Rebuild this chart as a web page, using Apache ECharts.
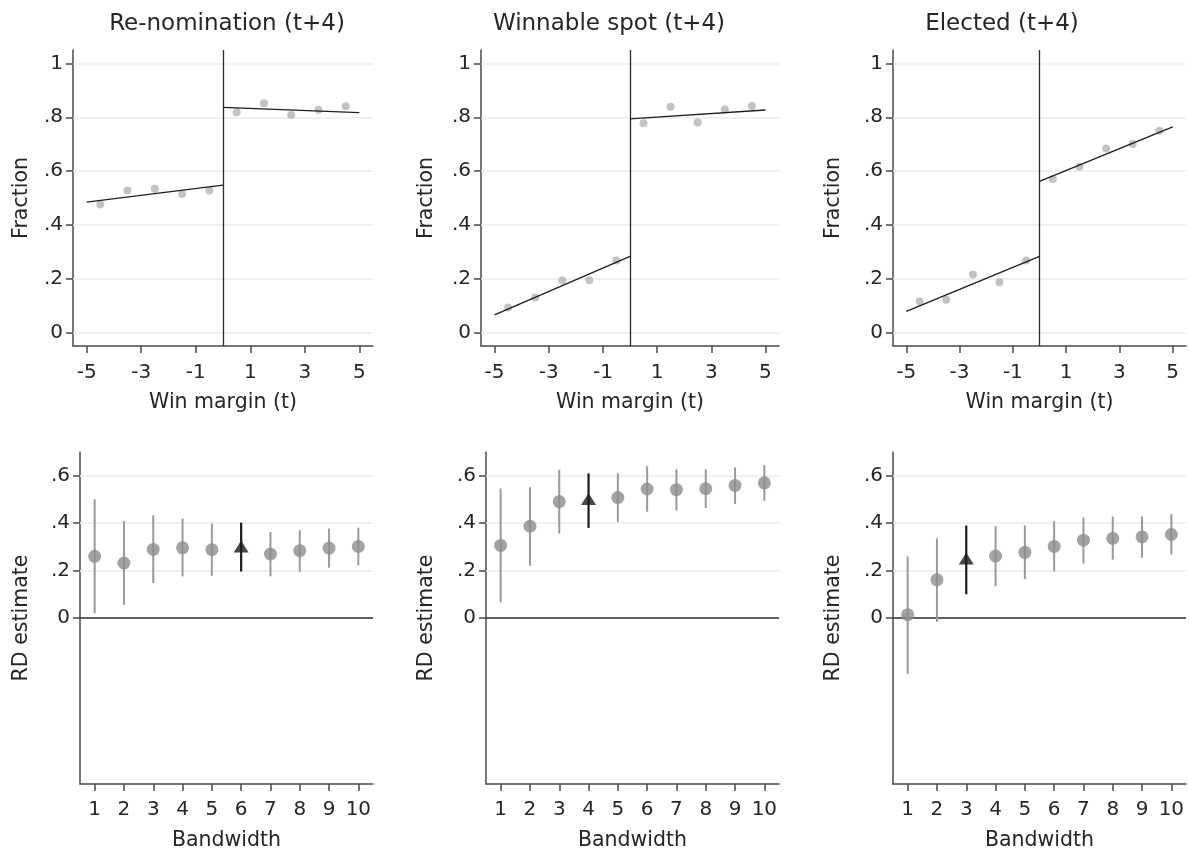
<!DOCTYPE html>
<html>
<head>
<meta charset="utf-8">
<script src="https://cdn.jsdelivr.net/npm/echarts@6/dist/echarts.min.js"></script>
<style>
html,body{margin:0;padding:0;background:#fff;}
#chart{width:1189px;height:852px;}
</style>
</head>
<body>
<div id="chart"></div>
<script>
// ---------- DATA ----------
const panelTitles = ['Re-nomination (t+4)', 'Winnable spot (t+4)', 'Elected (t+4)'];
const marginBins = [-4.5, -3.5, -2.5, -1.5, -0.5, 0.5, 1.5, 2.5, 3.5, 4.5];
const renomBinMeans = [0.476, 0.528, 0.534, 0.515, 0.528, 0.819, 0.852, 0.808, 0.828, 0.841];
const winnableBinMeans = [0.093, 0.130, 0.193, 0.194, 0.268, 0.778, 0.839, 0.781, 0.829, 0.842];
const electedBinMeans = [0.115, 0.122, 0.216, 0.187, 0.268, 0.571, 0.616, 0.684, 0.701, 0.750];
const fitLeftX = [-5, 0];
const fitRightX = [0, 5];
const renomFitLeft = [0.485, 0.548];
const renomFitRight = [0.837, 0.817];
const winnableFitLeft = [0.066, 0.283];
const winnableFitRight = [0.794, 0.827];
const electedFitLeft = [0.079, 0.283];
const electedFitRight = [0.562, 0.764];

const bandwidths = [1, 2, 3, 4, 5, 6, 7, 8, 9, 10];
const renomEst = [0.260, 0.232, 0.289, 0.296, 0.288, 0.302, 0.270, 0.284, 0.295, 0.302];
const renomLo  = [0.020, 0.056, 0.147, 0.175, 0.178, 0.196, 0.176, 0.195, 0.212, 0.222];
const renomHi  = [0.500, 0.408, 0.433, 0.419, 0.398, 0.402, 0.363, 0.370, 0.377, 0.381];
const renomSelected = 6;
const winnableEst = [0.306, 0.387, 0.491, 0.502, 0.508, 0.544, 0.541, 0.545, 0.559, 0.570];
const winnableLo  = [0.066, 0.220, 0.356, 0.380, 0.405, 0.448, 0.453, 0.464, 0.481, 0.494];
const winnableHi  = [0.546, 0.551, 0.625, 0.610, 0.610, 0.640, 0.627, 0.627, 0.635, 0.645];
const winnableSelected = 4;
const electedEst = [0.014, 0.161, 0.251, 0.261, 0.277, 0.302, 0.328, 0.336, 0.342, 0.352];
const electedLo  = [-0.236, -0.017, 0.100, 0.134, 0.164, 0.196, 0.230, 0.246, 0.254, 0.268];
const electedHi  = [0.260, 0.336, 0.390, 0.387, 0.390, 0.408, 0.424, 0.428, 0.428, 0.438];
const electedSelected = 3;

const topXTicks = [-5, -3, -1, 1, 3, 5];
const topYTicks = [0, 0.2, 0.4, 0.6, 0.8, 1];
const bottomYTicks = [0, 0.2, 0.4, 0.6];
const bottomGridLines = [0.2, 0.4, 0.6];
const topYName = 'Fraction';
const topXName = 'Win margin (t)';
const bottomYName = 'RD estimate';
const bottomXName = 'Bandwidth';

// ---------- BUILD ----------
const FONT = 'DejaVu Sans';
const TXT = '#262626';
const AXIS = '#4a4a4a';
const GRIDC = '#ebebeb';

const topPanels = [
  {pts: renomBinMeans, fl: renomFitLeft, fr: renomFitRight},
  {pts: winnableBinMeans, fl: winnableFitLeft, fr: winnableFitRight},
  {pts: electedBinMeans, fl: electedFitLeft, fr: electedFitRight}
];
const bottomPanels = [
  {est: renomEst, lo: renomLo, hi: renomHi, sel: renomSelected},
  {est: winnableEst, lo: winnableLo, hi: winnableHi, sel: winnableSelected},
  {est: electedEst, lo: electedLo, hi: electedHi, sel: electedSelected}
];

const topGrids = [
  {left: 73, top: 50, width: 300, height: 296, nameGap: 41, titleX: 222},
  {left: 481, top: 50, width: 298, height: 296, nameGap: 44, titleX: 604},
  {left: 893, top: 50, width: 293, height: 296, nameGap: 49, titleX: 997}
];
const bottomGrids = [
  {left: 80, top: 452, width: 293, height: 332, nameGap: 48},
  {left: 486, top: 452, width: 293, height: 332, nameGap: 49},
  {left: 893, top: 452, width: 293, height: 332, nameGap: 49}
];

function fmtY(v) {
  if (Math.abs(v) < 1e-9) return '0';
  if (Math.abs(v - 1) < 1e-9) return '1';
  return (+v.toFixed(2)).toString().replace(/^0\./, '.').replace(/^-0\./, '-.');
}

const grid = [], xAxis = [], yAxis = [], series = [], title = [];
const labelStyle = {fontFamily: FONT, fontSize: 20, color: TXT};

function axisBase(min, max, ticks, extra) {
  return Object.assign({
    type: 'value', min: min, max: max,
    axisLine: {show: true, onZero: false, lineStyle: {color: AXIS, width: 1.5}},
    axisTick: {show: true, length: 7, customValues: ticks, lineStyle: {color: AXIS, width: 1.5}},
    axisLabel: Object.assign({customValues: ticks, formatter: fmtY}, labelStyle),
    splitLine: {show: false},
    nameLocation: 'middle',
    nameTextStyle: {fontFamily: FONT, fontSize: 20.5, color: TXT}
  }, extra);
}

topGrids.forEach((g, i) => {
  const gi = grid.length;
  grid.push({left: g.left, top: g.top, width: g.width, height: g.height, containLabel: false});
  xAxis.push(axisBase(-5.5, 5.5, topXTicks, {gridIndex: gi, name: topXName, nameGap: 46,
    axisLabel: Object.assign({customValues: topXTicks, margin: 17, formatter: v => String(v)}, labelStyle)}));
  yAxis.push(axisBase(-0.05, 1.05, topYTicks, {gridIndex: gi, name: topYName, nameGap: g.nameGap,
    axisLabel: Object.assign({customValues: topYTicks, margin: 10, formatter: fmtY}, labelStyle)}));
  title.push({text: panelTitles[i], left: g.titleX, top: 8, textAlign: 'center',
    textStyle: {fontFamily: FONT, fontSize: 23, fontWeight: 'normal', color: TXT}});
  const p = topPanels[i];
  series.push({type: 'line', xAxisIndex: gi, yAxisIndex: gi, data: [], silent: true, z: 1,
    markLine: {silent: true, symbol: 'none', z: 1, label: {show: false}, animation: false,
      data: topYTicks.map(v => ({yAxis: v, lineStyle: {color: GRIDC, width: 1.5, type: 'solid'}}))
        .concat([{xAxis: 0, lineStyle: {color: '#2b2b2b', width: 1.3, type: 'solid'}}])}});
  series.push({type: 'line', xAxisIndex: gi, yAxisIndex: gi, z: 4, symbol: 'none', silent: true,
    lineStyle: {color: '#1e1e1e', width: 1.3}, data: fitLeftX.map((x, k) => [x, p.fl[k]])});
  series.push({type: 'line', xAxisIndex: gi, yAxisIndex: gi, z: 4, symbol: 'none', silent: true,
    lineStyle: {color: '#1e1e1e', width: 1.3}, data: fitRightX.map((x, k) => [x, p.fr[k]])});
  series.push({type: 'scatter', xAxisIndex: gi, yAxisIndex: gi, z: 3, symbol: 'circle', symbolSize: 8,
    itemStyle: {color: '#b4b4b4'}, silent: true, data: marginBins.map((x, k) => [x, p.pts[k]])});
});

bottomGrids.forEach((g, i) => {
  const gi = grid.length;
  grid.push({left: g.left, top: g.top, width: g.width, height: g.height, containLabel: false});
  xAxis.push(axisBase(0.5, 10.5, bandwidths, {gridIndex: gi, name: bottomXName, nameGap: 46,
    axisLabel: Object.assign({customValues: bandwidths, margin: 16, formatter: v => String(v)}, labelStyle)}));
  yAxis.push(axisBase(-0.7, 0.7, bottomYTicks, {gridIndex: gi, name: bottomYName, nameGap: g.nameGap,
    axisLabel: Object.assign({customValues: bottomYTicks, margin: 10, formatter: fmtY}, labelStyle)}));
  const p = bottomPanels[i];
  series.push({type: 'line', xAxisIndex: gi, yAxisIndex: gi, data: [], silent: true, z: 1,
    markLine: {silent: true, symbol: 'none', z: 1, label: {show: false}, animation: false,
      data: bottomGridLines.map(v => ({yAxis: v, lineStyle: {color: GRIDC, width: 1.5, type: 'solid'}}))
        .concat([{yAxis: 0, lineStyle: {color: '#2b2b2b', width: 1.5, type: 'solid'}}])}});
  series.push({type: 'custom', xAxisIndex: gi, yAxisIndex: gi, z: 3, silent: true,
    data: bandwidths.map((b, k) => [b, p.lo[k], p.hi[k], b === p.sel ? 1 : 0]),
    renderItem: function (params, api) {
      const x = api.value(0), lo = api.value(1), hi = api.value(2), s = api.value(3);
      const a = api.coord([x, lo]), b = api.coord([x, hi]);
      return {type: 'line', shape: {x1: a[0], y1: a[1], x2: b[0], y2: b[1]},
        style: {stroke: s ? '#1a1a1a' : '#9a9a9a', lineWidth: s ? 2.2 : 2}};
    }});
  series.push({type: 'scatter', xAxisIndex: gi, yAxisIndex: gi, z: 5, symbol: 'circle', symbolSize: 13, silent: true,
    itemStyle: {color: '#8c8c8c'},
    data: bandwidths.map((b, k) => [b, p.est[k]]).filter(d => d[0] !== p.sel)});
  series.push({type: 'scatter', xAxisIndex: gi, yAxisIndex: gi, z: 6, symbol: 'triangle', symbolSize: [15, 12], silent: true,
    itemStyle: {color: '#1a1a1a'},
    data: bandwidths.map((b, k) => [b, p.est[k]]).filter(d => d[0] === p.sel)});
});

const chart = echarts.init(document.getElementById('chart'), null, {renderer: 'canvas'});
chart.setOption({
  animation: false,
  backgroundColor: '#ffffff',
  title: title,
  grid: grid,
  xAxis: xAxis,
  yAxis: yAxis,
  series: series
});
</script>
</body>
</html>
